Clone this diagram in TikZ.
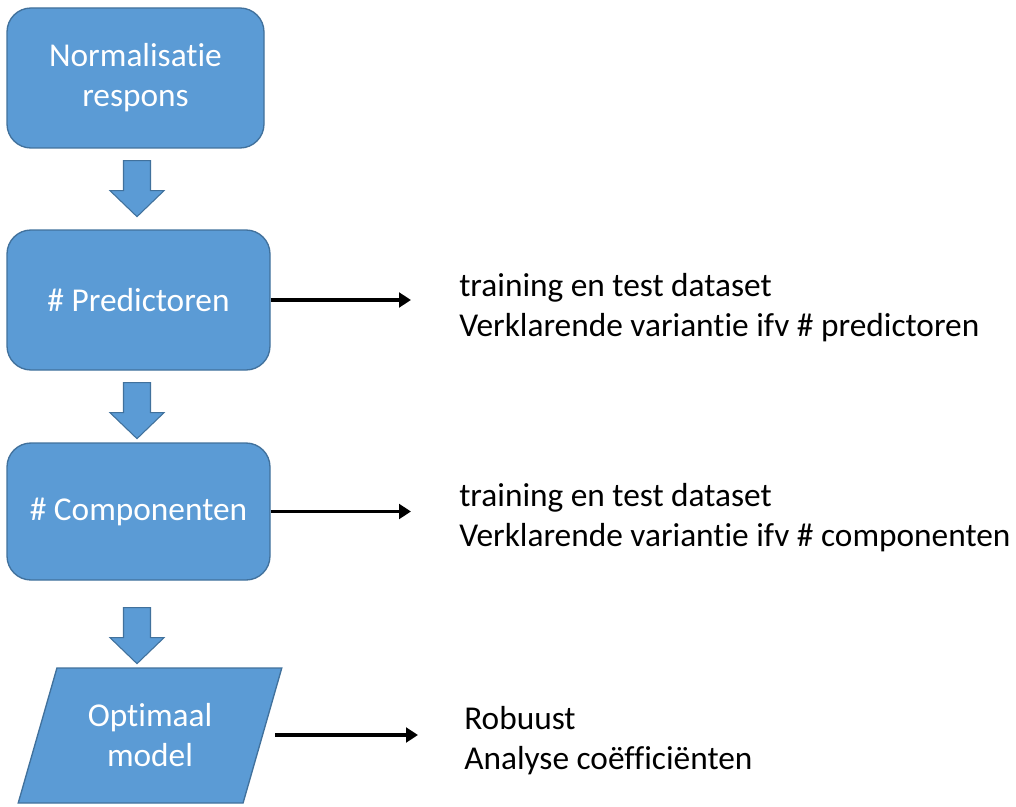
\documentclass[tikz,border=0pt]{standalone}
\usepackage{fontspec}
\setmainfont{Carlito}[RawFeature={-liga}]
\usetikzlibrary{arrows.meta,shapes.geometric,calc}
\definecolor{blokblauw}{HTML}{5B9BD5}
\definecolor{randblauw}{HTML}{41719C}
\tikzset{
  stap/.style={draw=randblauw,fill=blokblauw,line width=1pt,rounded corners=18pt,
    text=white,align=center,font=\fontsize{25}{30}\selectfont},
  uitleg/.style={anchor=west,inner sep=0pt,align=left,font=\fontsize{25}{30}\selectfont},
  pijl/.style={line width=2.6pt,-{Triangle[length=9pt,width=11pt]}},
  blokpijl/.style={draw=randblauw,fill=blokblauw,line width=0.8pt}
}
\begin{document}
\begin{tikzpicture}[x=0.75pt,y=-0.75pt]
\useasboundingbox (0,0) rectangle (1016,806);
% de vier stappen
\node[stap,minimum width=192.75pt,minimum height=105pt] (norm) at (135.5,78) {Normalisatie\\respons};
\node[stap,minimum width=197.25pt,minimum height=105pt] (pred) at (138.5,300) {\# Predictoren};
\node[stap,minimum width=197.25pt,minimum height=102.75pt] (comp) at (138.5,511.5) {\# Componenten};
\node[stap,trapezium,rounded corners=0pt,trapezium left angle=69,trapezium right angle=111,
  trapezium stretches=true,minimum width=198pt,minimum height=101.25pt] (opt) at (150,735.5) {Optimaal\\model};
% uitleg rechts
\node[uitleg] (upred) at (459,308) {training en test dataset\\Verklarende variantie ifv \# predictoren};
\node[uitleg] (ucomp) at (459,518) {training en test dataset\\Verklarende variantie ifv \# componenten};
\node[uitleg] (uopt) at (464,741) {Robuust\\Analyse coëfficiënten};
% blokpijlen naar beneden
\foreach \n/\g in {norm/12,pred/12,comp/27}{
\draw[blokpijl] ($(\n.south -| 137,0)+(0,\g)$) ++(-13.5,0) -- ++(27,0) -- ++(0,30) -- ++(13.5,0)
  -- ++(-27,26) -- ++(-27,-26) -- ++(13.5,0) -- cycle;}
% pijlen naar de uitleg
\draw[pijl] (pred.east) -- (pred.east -| 411,0);
\draw[pijl] (comp.east) -- (comp.east -| 411,0);
\coordinate (optuit) at (275,735);
\draw[pijl] (optuit) -- (optuit -| 418,0);
\end{tikzpicture}
\end{document}
